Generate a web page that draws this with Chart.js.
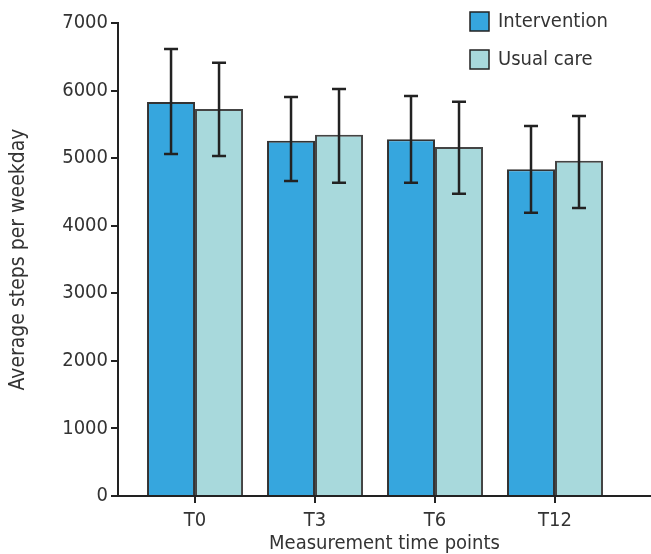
<!DOCTYPE html>
<html>
<head>
<meta charset="utf-8">
<script src="https://cdn.jsdelivr.net/npm/chart.js@4"></script>
<style>
  html, body { margin: 0; padding: 0; background: #fff; }
  #wrap { width: 651px; height: 554px; }
</style>
</head>
<body>
<div id="wrap"><canvas id="stepsChart"></canvas></div>
<script>
// data
const timePoints = ['T0', 'T3', 'T6', 'T12'];
const interventionMean = [5830, 5258, 5280, 4835];
const interventionUpper = [6615, 5905, 5920, 5476];
const interventionLower = [5061, 4662, 4637, 4193];
const usualMean = [5727, 5347, 5165, 4963];
const usualUpper = [6413, 6023, 5836, 5624];
const usualLower = [5032, 4637, 4474, 4262];
const yTicks = [0, 1000, 2000, 3000, 4000, 5000, 6000, 7000];

const FONT = "'DejaVu Sans Condensed', 'Liberation Sans Narrow', 'Roboto', sans-serif";
const TEXT = '#333333';
const AXIS = '#222222';

// error bars on top of every bar
const errorBars = {
    id: 'errorBars',
    afterDatasetsDraw(chart) {
        const ctx = chart.ctx;
        const y = chart.scales.y;
        ctx.save();
        ctx.strokeStyle = AXIS;
        ctx.lineWidth = 2.5;
        chart.data.datasets.forEach((ds, i) => {
            const meta = chart.getDatasetMeta(i);
            meta.data.forEach((bar, j) => {
                const top = y.getPixelForValue(ds.upper[j]);
                const bot = y.getPixelForValue(ds.lower[j]);
                ctx.beginPath();
                ctx.moveTo(bar.x, top);
                ctx.lineTo(bar.x, bot);
                ctx.moveTo(bar.x - 7, top);
                ctx.lineTo(bar.x + 7, top);
                ctx.moveTo(bar.x - 7, bot);
                ctx.lineTo(bar.x + 7, bot);
                ctx.stroke();
            });
        });
        ctx.restore();
    }
};

// vertical legend in the top right corner
const boxLegend = {
    id: 'boxLegend',
    afterDraw(chart) {
        const ctx = chart.ctx;
        ctx.save();
        ctx.font = '20px ' + FONT;
        ctx.textBaseline = 'middle';
        chart.data.datasets.forEach((ds, i) => {
            const bx = 470, by = 12 + i * 38;
            ctx.fillStyle = ds.backgroundColor;
            ctx.fillRect(bx, by, 19, 19);
            ctx.strokeStyle = AXIS;
            ctx.lineWidth = 1.5;
            ctx.strokeRect(bx, by, 19, 19);
            ctx.fillStyle = TEXT;
            ctx.fillText(ds.label, bx + 28, by + 10);
        });
        ctx.restore();
    }
};

const stepsChart = new Chart(
    document.getElementById('stepsChart'),
    {
        type: 'bar',
        data: {
            datasets: [
                {
                    label: 'Intervention',
                    data: interventionMean.map((v, i) => ({ x: i, y: v })),
                    upper: interventionUpper,
                    lower: interventionLower,
                    backgroundColor: '#36a6de',
                    borderColor: '#333333',
                    borderWidth: 2,
                },
                {
                    label: 'Usual care',
                    data: usualMean.map((v, i) => ({ x: i, y: v })),
                    upper: usualUpper,
                    lower: usualLower,
                    backgroundColor: '#a8d9dc',
                    borderColor: '#444444',
                    borderWidth: 2,
                }
            ]
        },
        options: {
            responsive: true,
            maintainAspectRatio: false,
            animation: false,
            layout: { padding: { top: 23, right: 0, bottom: 0, left: 0 } },
            datasets: { bar: { categoryPercentage: 0.8, barPercentage: 1.0 } },
            scales: {
                x: {
                    type: 'linear',
                    offset: false,
                    min: -0.642,
                    max: 3.8,
                    afterBuildTicks(scale) {
                        scale.ticks = timePoints.map((t, i) => ({ value: i }));
                    },
                    afterFit(scale) { scale.height = 58; },
                    ticks: {
                        callback: (v) => timePoints[v],
                        color: TEXT,
                        font: { family: FONT, size: 20 },
                        padding: 6,
                        maxRotation: 0,
                    },
                    grid: {
                        offset: false,
                        drawOnChartArea: false,
                        color: AXIS,
                        lineWidth: 2,
                        tickLength: 7,
                    },
                    border: { color: AXIS, width: 2 },
                    title: {
                        display: true,
                        text: 'Measurement time points',
                        color: TEXT,
                        font: { family: FONT, size: 20 },
                        padding: { top: 0, bottom: -2 },
                    }
                },
                y: {
                    min: 0,
                    max: 7000,
                    afterBuildTicks(scale) {
                        scale.ticks = yTicks.map((v) => ({ value: v }));
                    },
                    afterFit(scale) { scale.width = 118; },
                    ticks: {
                        callback: (v) => String(v),
                        color: TEXT,
                        font: { family: FONT, size: 20 },
                        padding: 3,
                    },
                    grid: {
                        drawOnChartArea: false,
                        color: AXIS,
                        lineWidth: 2,
                        tickLength: 7,
                    },
                    border: { color: AXIS, width: 2 },
                    title: {
                        display: true,
                        text: 'Average steps per weekday',
                        color: TEXT,
                        font: { family: FONT, size: 21 },
                        padding: { top: 6, bottom: 0 },
                    }
                }
            },
            plugins: {
                legend: { display: false },
                tooltip: { enabled: false }
            }
        },
        plugins: [errorBars, boxLegend]
    }
);
</script>
</body>
</html>
